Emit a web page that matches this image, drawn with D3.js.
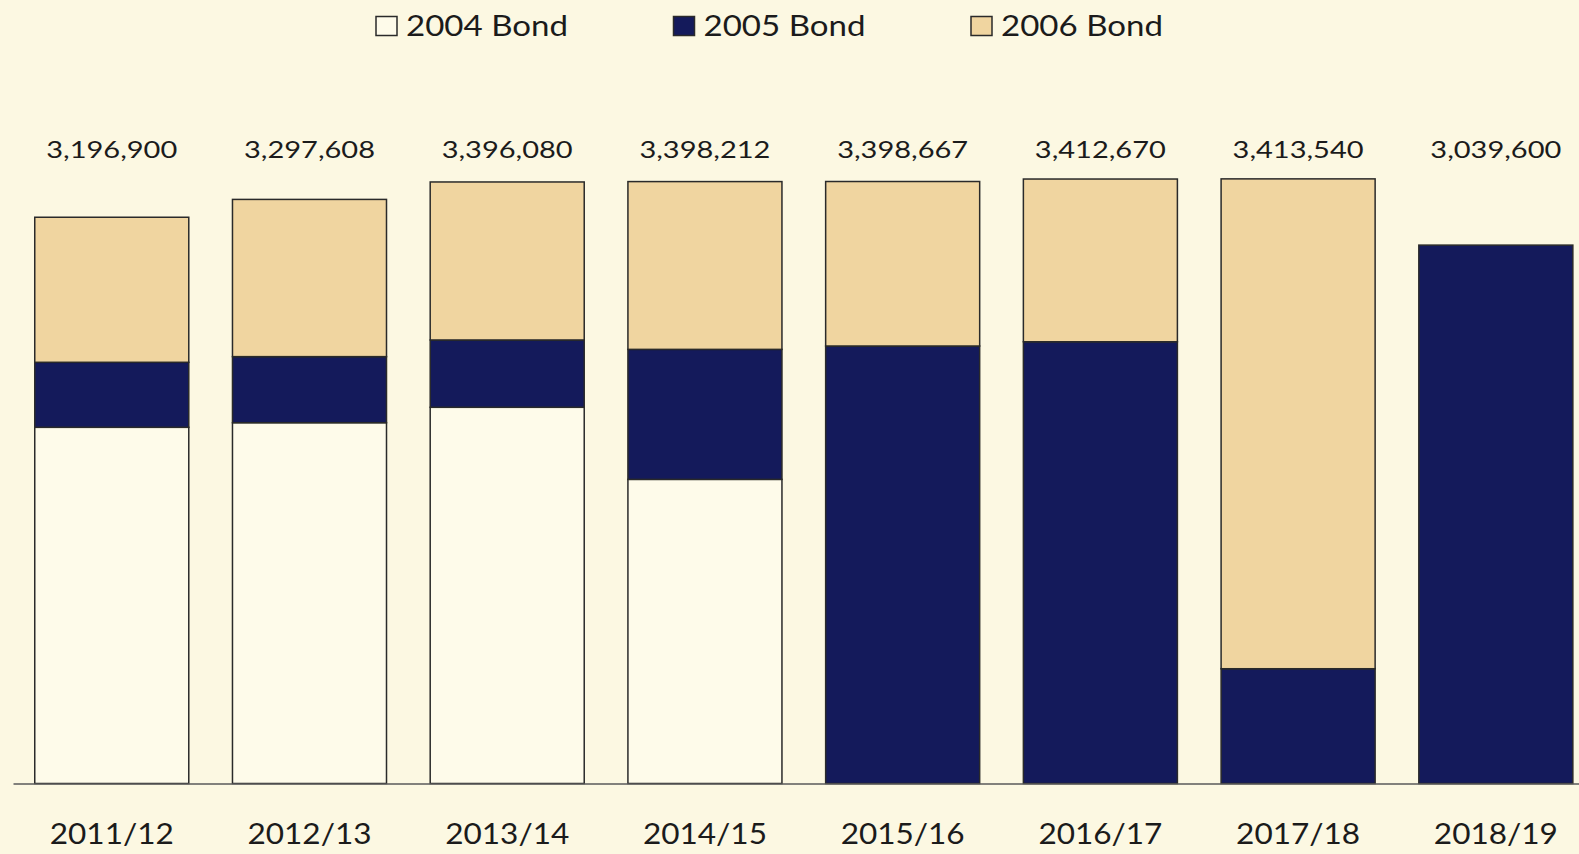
<!DOCTYPE html>
<html>
<head>
<meta charset="utf-8">
<script src="https://cdn.jsdelivr.net/npm/d3@7"></script>
<style>
  html, body { margin: 0; padding: 0; background: #fcf8e2; }
  svg { display: block; }
  text { font-family: Lato, "Open Sans", sans-serif; fill: #1b1b1b; }
</style>
</head>
<body>
<svg id="chart" width="1579" height="854"></svg>
<script>
// Fiscal years on the x axis
const years = ["2011/12", "2012/13", "2013/14", "2014/15", "2015/16", "2016/17", "2017/18", "2018/19"];

// Amount funded from each bond issue, per year
const bond2004 = [2011000, 2037000, 2124000, 1717000, 0, 0, 0, 0];
const bond2005 = [367000, 373000, 380000, 734000, 2470000, 2494000, 648000, 3039600];
const bond2006 = [818900, 887608, 892080, 947212, 928667, 918670, 2765540, 0];

// Series names and fills (stack order bottom to top)
const seriesNames = ["2004 Bond", "2005 Bond", "2006 Bond"];
const seriesColors = ["#fefbea", "#141a5b", "#f0d5a0"];

const W = 1579, H = 854;
const svg = d3.select("#chart");

svg.append("rect").attr("width", W).attr("height", H).attr("fill", "#fcf8e2");

const rows = years.map((y, i) => ({
  year: y,
  "2004 Bond": bond2004[i],
  "2005 Bond": bond2005[i],
  "2006 Bond": bond2006[i]
}));
const totals = rows.map(r => seriesNames.reduce((s, k) => s + r[k], 0));

const stack = d3.stack().keys(seriesNames);
const layers = stack(rows);

const x = d3.scaleBand()
  .domain(years)
  .range([13, 1594.6])
  .paddingInner(0.221)
  .paddingOuter(0.11);

const y = d3.scaleLinear()
  .domain([0, 4000000])
  .range([783.5, 75]);

const color = d3.scaleOrdinal().domain(seriesNames).range(seriesColors);

// Stacked bars
const g = svg.append("g");
g.selectAll("g.layer")
  .data(layers)
  .join("g")
  .attr("class", "layer")
  .attr("fill", d => color(d.key))
  .selectAll("rect")
  .data(d => d.filter(s => s[1] - s[0] > 0))
  .join("rect")
  .attr("x", d => x(d.data.year))
  .attr("width", x.bandwidth())
  .attr("y", d => y(d[1]))
  .attr("height", d => y(d[0]) - y(d[1]))
  .attr("stroke", "#2a2a2a")
  .attr("stroke-width", 1.5);

// Total labels above each bar
const fmt = d3.format(",");
svg.append("g")
  .selectAll("text")
  .data(years)
  .join("text")
  .attr("x", d => x(d) + x.bandwidth() / 2)
  .attr("y", 158)
  .attr("text-anchor", "middle")
  .attr("font-size", 24)
  .attr("textLength", 131)
  .attr("lengthAdjust", "spacingAndGlyphs")
  .text((d, i) => fmt(totals[i]));

// Category axis
const axis = svg.append("g")
  .attr("transform", `translate(0,${y(0)})`)
  .call(d3.axisBottom(x).tickSize(0).tickSizeOuter(0).tickPadding(0));
axis.select(".domain").attr("stroke", "#5a5a5a").attr("stroke-width", 1.6);
axis.selectAll(".tick text")
  .attr("y", 60.5)
  .attr("dy", 0)
  .attr("font-family", "Lato, 'Open Sans', sans-serif")
  .attr("font-size", 28.5)
  .attr("fill", "#1b1b1b")
  .attr("textLength", 124)
  .attr("lengthAdjust", "spacingAndGlyphs");

// Legend
const legendX0 = 376, legendStep = 297.5;
const legend = svg.append("g")
  .selectAll("g")
  .data(seriesNames)
  .join("g")
  .attr("transform", (d, i) => `translate(${legendX0 + i * legendStep},0)`);
legend.append("rect")
  .attr("x", 0).attr("y", 16.5)
  .attr("width", 21).attr("height", 19)
  .attr("fill", d => color(d))
  .attr("stroke", "#2a2a2a").attr("stroke-width", 1.5);
legend.append("text")
  .attr("x", 30).attr("y", 36)
  .attr("font-size", 29)
  .attr("textLength", 162)
  .attr("lengthAdjust", "spacingAndGlyphs")
  .text(d => d);
</script>
</body>
</html>
